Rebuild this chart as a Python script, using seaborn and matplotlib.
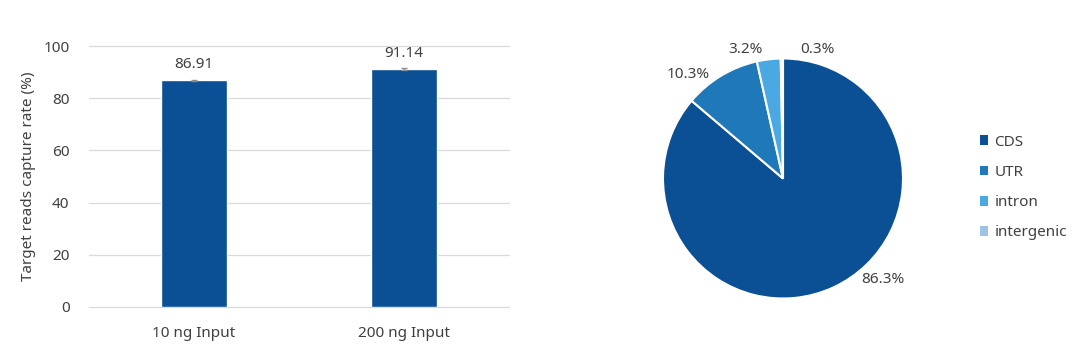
import matplotlib
matplotlib.use("Agg")
import matplotlib.pyplot as plt
import seaborn as sns
import pandas as pd
from matplotlib.patches import Patch

# ---- data ----
categories = ["10 ng Input", "200 ng Input"]
capture_rate = [86.91, 91.14]
capture_err = [0.25, 0.45]

regions = ["CDS", "UTR", "intron", "intergenic"]
region_pct = [86.3, 10.3, 3.2, 0.3]
region_colors = ["#0B4F94", "#1F78B8", "#4AA8E3", "#9DC3E6"]

sns.set_theme(style="white")
plt.rcParams["font.family"] = ["Noto Sans", "DejaVu Sans"]
TXT = "#404040"
FS = 11

fig = plt.figure(figsize=(10.8, 3.49), dpi=100)

# ---- bar chart ----
ax = fig.add_axes([89/1080, 1-307/349, 420/1080, 261/349])
df = pd.DataFrame({"cat": categories, "val": capture_rate})
sns.barplot(data=df, x="cat", y="val", color="#0B4F94", width=0.315,
            saturation=1, ax=ax, errorbar=None, zorder=3)
ax.errorbar(range(len(categories)), capture_rate, yerr=capture_err, fmt="none",
            ecolor="#8C8C8C", elinewidth=1, capsize=2, capthick=1, zorder=4)
for i, v in enumerate(capture_rate):
    ax.text(i, v + 3.3, f"{v:.2f}", ha="center", va="bottom", fontsize=FS, color=TXT)
ax.set_ylim(0, 100)
ax.set_xlim(-0.5, 1.5)
ax.set_yticks(range(0, 101, 20))
ax.yaxis.grid(True, color="#D9D9D9", linewidth=0.9, zorder=0)
for gl in ax.get_ygridlines():
    gl.set_clip_on(False)
ax.set_axisbelow(True)
for s in ax.spines.values():
    s.set_visible(False)
ax.tick_params(axis="both", length=0, labelsize=FS, labelcolor=TXT)
ax.tick_params(axis="x", pad=14)
ax.tick_params(axis="y", pad=14)
ax.set_xlabel("")
ax.set_ylabel("Target reads capture rate (%)", fontsize=FS, color=TXT, labelpad=5)

# ---- pie chart ----
pax = fig.add_axes([663/1080, 1-298.5/349, 240/1080, 240/349])
wedges, texts = pax.pie(region_pct, colors=region_colors, startangle=90,
                        counterclock=False,
                        labels=[f"{p:.1f}%" for p in region_pct],
                        labeldistance=1.15,
                        wedgeprops=dict(edgecolor="white", linewidth=1.5))
label_pos = [(0.83, -0.84), (-0.79, 0.87), (-0.31, 1.075), (0.285, 1.075)]
for t, pos in zip(texts, label_pos):
    t.set_position(pos)
    t.set_ha("center")
    t.set_va("center")
    t.set_fontsize(FS)
    t.set_color(TXT)
    t.set_clip_on(False)
pax.set_xlim(-1, 1)
pax.set_ylim(-1, 1)
pax.set_aspect("equal")

handles = [Patch(facecolor=c, edgecolor="none", label=r) for c, r in zip(region_colors, regions)]
fig.legend(handles=handles, loc="center left", bbox_to_anchor=(980/1080, 1-187.5/349),
           frameon=False, fontsize=FS, labelcolor=TXT, handlelength=0.55,
           handleheight=0.6, handletextpad=0.4, labelspacing=1.0, borderpad=0,
           borderaxespad=0)

fig.savefig("out.png", dpi=100, facecolor="white")
